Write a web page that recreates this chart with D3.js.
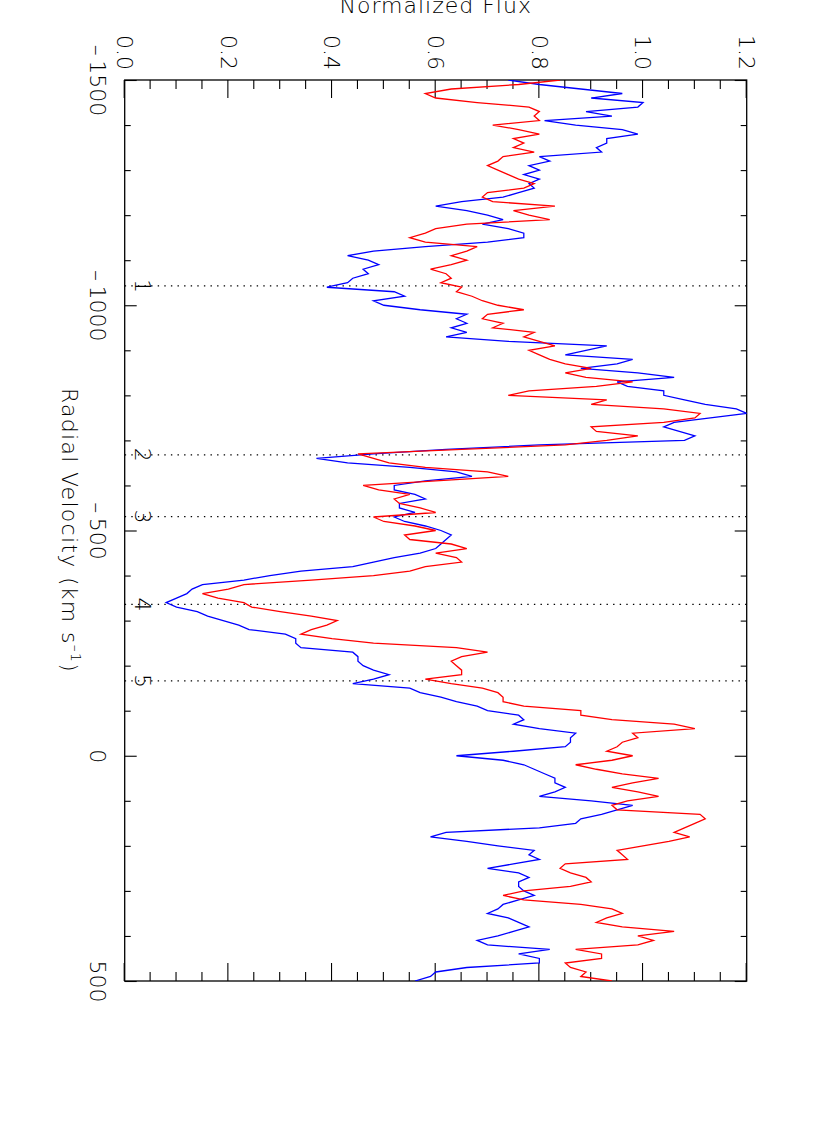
<!DOCTYPE html>
<html>
<head>
<meta charset="utf-8">
<script src="https://cdn.jsdelivr.net/npm/d3@7"></script>
<style>
  body { margin: 0; background: #fff; }
  svg text { font-family: "DejaVu Sans", sans-serif; font-weight: 200; fill: #000; }
</style>
</head>
<body>
<div id="chart"></div>
<script>
// radial velocity grid (km/s)
var velocity = [
  -1500,-1490,-1480,-1470,-1460,-1450,-1440,-1430,-1420,-1410,
  -1400,-1390,-1380,-1370,-1360,-1350,-1340,-1330,-1320,-1310,
  -1300,-1290,-1280,-1270,-1260,-1250,-1240,-1230,-1220,-1210,
  -1200,-1190,-1180,-1170,-1160,-1150,-1140,-1130,-1120,-1110,
  -1100,-1090,-1080,-1070,-1060,-1050,-1040,-1030,-1020,-1010,
  -1000,-990,-980,-970,-960,-950,-940,-930,-920,-910,
  -900,-890,-880,-870,-860,-850,-840,-830,-820,-810,
  -800,-790,-780,-770,-760,-750,-740,-730,-720,-710,
  -700,-690,-680,-670,-660,-650,-640,-630,-620,-610,
  -600,-590,-580,-570,-560,-550,-540,-530,-520,-510,
  -500,-490,-480,-470,-460,-450,-440,-430,-420,-410,
  -400,-390,-380,-370,-360,-350,-340,-330,-320,-310,
  -300,-290,-280,-270,-260,-250,-240,-230,-220,-210,
  -200,-190,-180,-170,-160,-150,-140,-130,-120,-110,
  -100,-90,-80,-70,-60,-50,-40,-30,-20,-10,
  0,10,20,30,40,50,60,70,80,90,
  100,110,120,130,140,150,160,170,180,190,
  200,210,220,230,240,250,260,270,280,290,
  300,310,320,330,340,350,360,370,380,390,
  400,410,420,430,440,450,460,470,480,490,
  500
];

var fluxBlue = [
  0.74,0.80,0.88,0.96,0.90,1.00,0.99,0.89,0.94,0.81,
  0.87,0.96,0.99,0.93,0.93,0.91,0.92,0.80,0.82,0.78,
  0.80,0.77,0.80,0.78,0.79,0.76,0.73,0.65,0.60,0.66,
  0.70,0.73,0.69,0.74,0.77,0.77,0.70,0.58,0.48,0.43,
  0.47,0.49,0.46,0.47,0.44,0.43,0.39,0.52,0.54,0.48,
  0.50,0.57,0.66,0.64,0.66,0.63,0.66,0.62,0.74,0.93,
  0.89,0.85,0.98,0.95,0.88,0.99,1.06,0.95,0.97,1.04,
  1.04,1.08,1.12,1.18,1.20,1.13,1.06,1.04,1.07,1.10,
  1.08,0.80,0.62,0.48,0.37,0.43,0.55,0.64,0.67,0.58,
  0.52,0.52,0.56,0.58,0.53,0.53,0.56,0.52,0.54,0.58,
  0.61,0.63,0.62,0.61,0.60,0.57,0.52,0.48,0.44,0.34,
  0.28,0.23,0.15,0.13,0.12,0.10,0.08,0.10,0.14,0.16,
  0.19,0.22,0.24,0.31,0.33,0.33,0.34,0.44,0.45,0.45,
  0.46,0.48,0.51,0.48,0.44,0.55,0.57,0.61,0.64,0.68,
  0.70,0.76,0.77,0.75,0.80,0.87,0.86,0.86,0.85,0.75,
  0.64,0.73,0.77,0.79,0.81,0.83,0.83,0.85,0.83,0.80,
  0.90,0.98,0.95,0.92,0.88,0.87,0.80,0.62,0.59,0.66,
  0.72,0.79,0.78,0.80,0.75,0.70,0.76,0.78,0.76,0.76,
  0.77,0.79,0.76,0.73,0.72,0.70,0.74,0.76,0.78,0.75,
  0.72,0.68,0.70,0.82,0.76,0.80,0.80,0.66,0.60,0.59,
  0.56
];

var fluxRed = [
  0.84,0.76,0.63,0.58,0.60,0.68,0.78,0.80,0.79,0.80,
  0.71,0.76,0.80,0.75,0.77,0.75,0.79,0.73,0.72,0.70,
  0.72,0.74,0.76,0.79,0.77,0.70,0.69,0.71,0.83,0.75,
  0.78,0.82,0.66,0.60,0.58,0.55,0.58,0.68,0.66,0.63,
  0.66,0.63,0.59,0.62,0.63,0.61,0.65,0.64,0.67,0.69,
  0.72,0.77,0.70,0.69,0.73,0.71,0.79,0.77,0.80,0.83,
  0.78,0.80,0.82,0.85,0.90,0.85,0.89,0.98,0.91,0.78,
  0.74,0.93,0.90,1.04,1.11,1.10,1.04,0.90,0.91,0.99,
  0.93,0.85,0.65,0.45,0.48,0.51,0.58,0.70,0.74,0.60,
  0.46,0.49,0.55,0.52,0.53,0.57,0.60,0.48,0.50,0.56,
  0.60,0.54,0.55,0.63,0.66,0.60,0.64,0.65,0.58,0.55,
  0.48,0.36,0.23,0.20,0.15,0.18,0.23,0.245,0.30,0.36,
  0.41,0.39,0.36,0.34,0.40,0.48,0.64,0.70,0.65,0.63,
  0.64,0.65,0.65,0.58,0.63,0.69,0.72,0.73,0.73,0.77,
  0.88,0.88,0.94,1.06,1.10,0.98,0.99,0.96,0.95,0.93,
  0.98,0.94,0.87,0.91,0.96,1.03,0.98,0.94,0.99,1.03,
  0.97,0.94,0.95,1.11,1.12,1.10,1.08,1.06,1.09,1.05,
  1.00,0.95,0.96,0.97,0.85,0.84,0.86,0.89,0.90,0.86,
  0.77,0.73,0.77,0.88,0.94,0.96,0.93,0.91,0.96,1.06,
  0.99,1.02,0.99,0.87,0.92,0.92,0.85,0.86,0.89,0.88,
  0.94
];

var velTicks = [-1500, -1000, -500, 0, 500];
var velMinor = [-1400,-1300,-1200,-1100,-900,-800,-700,-600,-400,-300,-200,-100,100,200,300,400];
var fluxTicks = [0.0, 0.2, 0.4, 0.6, 0.8, 1.0, 1.2];
var fluxMinor = [0.05,0.10,0.15,0.25,0.30,0.35,0.45,0.50,0.55,0.65,0.70,0.75,0.85,0.90,0.95,1.05,1.10,1.15];
var markVel = [-1043, -668, -531, -336, -166];
var markLabels = ["1", "2", "3", "4", "5"];

var svgWidth = 830, svgHeight = 1127;

// plot box on the page
var boxLeft = 124.7, boxRight = 746.7, boxTop = 80, boxBottom = 981;
var chartWidth = boxBottom - boxTop;   // velocity runs down the page
var chartHeight = boxRight - boxLeft;  // flux runs across the page

var svg = d3.select("#chart")
  .append("svg")
  .attr("width", svgWidth)
  .attr("height", svgHeight);

// the plot was printed landscape: draw it normally, then turn it 90 degrees
var chartGroup = svg.append("g")
  .attr("transform", `translate(${boxRight}, ${boxTop}) rotate(90)`);

var x = d3.scaleLinear().domain([-1500, 500]).range([0, chartWidth]);
var y = d3.scaleLinear().domain([0, 1.2]).range([chartHeight, 0]);

chartGroup.append("clipPath").attr("id", "clip")
  .append("rect").attr("width", chartWidth).attr("height", chartHeight);

function velLabel(d) {
  return d < 0 ? "\u2013\u2009" + Math.abs(d) : String(d);
}

// velocity axis with labels (bottom) and plain one (top)
chartGroup.append("g")
  .attr("class", "axis")
  .attr("transform", `translate(0, ${chartHeight})`)
  .call(d3.axisBottom(x).tickValues(velTicks).tickSize(-12).tickPadding(19).tickFormat(velLabel));
chartGroup.append("g")
  .attr("transform", `translate(0, ${chartHeight})`)
  .call(d3.axisBottom(x).tickValues(velMinor).tickSize(-6).tickFormat(""));
chartGroup.append("g")
  .call(d3.axisTop(x).tickValues(velTicks).tickSize(-12).tickFormat(""));
chartGroup.append("g")
  .call(d3.axisTop(x).tickValues(velMinor).tickSize(-6).tickFormat(""));

// flux axis with labels (left) and plain one (right)
chartGroup.append("g")
  .attr("class", "axis")
  .call(d3.axisLeft(y).tickValues(fluxTicks).tickSize(-18).tickPadding(10).tickFormat(d3.format(".1f")));
chartGroup.append("g")
  .call(d3.axisLeft(y).tickValues(fluxMinor).tickSize(-9).tickFormat(""));
chartGroup.append("g")
  .attr("transform", `translate(${chartWidth}, 0)`)
  .call(d3.axisRight(y).tickValues(fluxTicks).tickSize(-18).tickFormat(""));
chartGroup.append("g")
  .attr("transform", `translate(${chartWidth}, 0)`)
  .call(d3.axisRight(y).tickValues(fluxMinor).tickSize(-9).tickFormat(""));

chartGroup.selectAll(".domain").remove();
chartGroup.selectAll(".tick line").attr("stroke", "#000").attr("stroke-width", 1.1);
chartGroup.selectAll(".axis text").attr("font-size", 22).attr("font-family", null);

// frame
chartGroup.append("rect")
  .attr("width", chartWidth)
  .attr("height", chartHeight)
  .attr("fill", "none")
  .attr("stroke", "#000")
  .attr("stroke-width", 1.3);

// marked velocities
chartGroup.append("g")
  .selectAll("line")
  .data(markVel)
  .enter()
  .append("line")
  .attr("x1", d => x(d))
  .attr("x2", d => x(d))
  .attr("y1", chartHeight)
  .attr("y2", 0)
  .attr("stroke", "#000")
  .attr("stroke-width", 1.2)
  .attr("stroke-dasharray", "1.4,5.2");

chartGroup.append("g")
  .selectAll("text")
  .data(markVel)
  .enter()
  .append("text")
  .attr("x", d => x(d))
  .attr("y", chartHeight - 10)
  .attr("text-anchor", "middle")
  .attr("font-size", 22)
  .text((d, i) => markLabels[i]);

// spectra
var blueData = velocity.map((v, i) => [v, fluxBlue[i]]);
var redData = velocity.map((v, i) => [v, fluxRed[i]]);
var line = d3.line().x(d => x(d[0])).y(d => y(d[1]));

chartGroup.append("path")
  .datum(blueData)
  .attr("clip-path", "url(#clip)")
  .attr("d", line)
  .attr("fill", "none")
  .attr("stroke", "#0000ff")
  .attr("stroke-width", 1.3);

chartGroup.append("path")
  .datum(redData)
  .attr("clip-path", "url(#clip)")
  .attr("d", line)
  .attr("fill", "none")
  .attr("stroke", "#ff0000")
  .attr("stroke-width", 1.3);

// axis titles
chartGroup.append("text")
  .attr("transform", `translate(-67, ${chartHeight / 2}) rotate(-90)`)
  .attr("text-anchor", "middle")
  .attr("font-size", 22)
  .attr("letter-spacing", 1)
  .text("Normalized Flux");

var xTitle = chartGroup.append("text")
  .attr("x", chartWidth / 2)
  .attr("y", chartHeight + 63)
  .attr("text-anchor", "middle")
  .attr("font-size", 22)
  .attr("letter-spacing", 1.3);
xTitle.append("tspan").text("Radial Velocity (km s");
xTitle.append("tspan").attr("font-size", 14).attr("dy", -9).text("\u20131");
xTitle.append("tspan").attr("dy", 9).text(")");
</script>
</body>
</html>
